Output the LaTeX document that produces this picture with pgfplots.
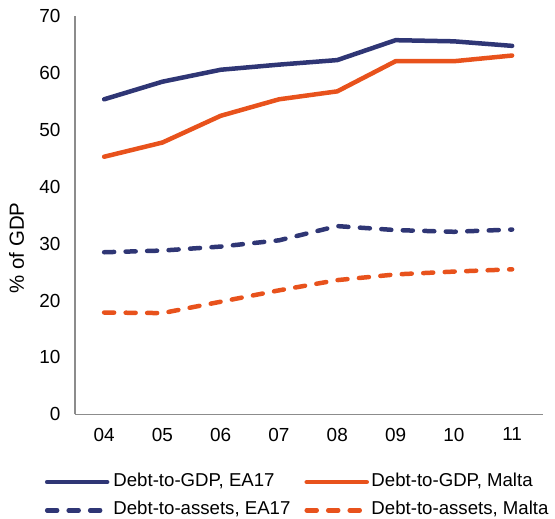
\documentclass[border=0pt]{standalone}
\usepackage{fontspec}
\setmainfont{Liberation Sans}
\usepackage{pgfplots}
\pgfplotsset{compat=1.18}
\definecolor{navy}{HTML}{2F3675}
\definecolor{org}{HTML}{E8521C}
\definecolor{axgray}{HTML}{8C8C8C}
\begin{document}
\begin{tikzpicture}
\begin{axis}[
  scale only axis,
  width=468bp, height=398bp,
  xmin=-0.5, xmax=7.53, ymin=0, ymax=70,
  axis x line*=bottom, axis y line*=left,
  axis line style={axgray, line width=1.5pt},
  xtick={0,...,7}, xticklabels={04,05,06,07,08,09,10,11},
  ytick={0,10,...,70},
  major tick length=0pt,
  tick label style={font=\fontsize{19}{22}\selectfont},
  /pgf/number format/assume math mode=true,
  xticklabel style={yshift=-10bp},
  yticklabel style={xshift=-11bp},
  ylabel={\% of GDP},
  ylabel style={font=\fontsize{20.5}{24}\selectfont, at={(axis description cs:-0.125,0.418)}, anchor=center, rotate=0},
  legend columns=2,
  legend style={draw=none, at={(axis description cs:-0.0647,-0.1508)}, anchor=north west,
    inner sep=0pt, row sep=13.3bp,
    font=\fontsize{18.7}{22}\selectfont,
    nodes={inner sep=0pt, text height=12bp, text depth=3bp},
    /tikz/column 1/.style={column sep=4bp},
    /tikz/column 2/.style={column sep=14bp},
    /tikz/column 3/.style={column sep=2.5bp}},
  legend cell align=left,
  legend image code/.code={\draw[#1] (2bp,0bp) -- (62bp,0bp);},
  every axis plot/.append style={line width=4.5bp, line cap=round, line join=round},
]
\addplot[navy] coordinates {(0,55.4)(1,58.5)(2,60.6)(3,61.5)(4,62.3)(5,65.8)(6,65.6)(7,64.8)};
\addlegendentry{Debt-to-GDP, EA17}
\addplot[org] coordinates {(0,45.3)(1,47.8)(2,52.5)(3,55.4)(4,56.8)(5,62.1)(6,62.1)(7,63.1)};
\addlegendentry{Debt-to-GDP, Malta}
\addplot[navy, dash pattern=on 10bp off 11.5bp] coordinates {(0,28.5)(1,28.8)(2,29.5)(3,30.6)(4,33.1)(5,32.4)(6,32.1)(7,32.5)};
\addlegendentry{Debt-to-assets, EA17}
\addplot[org, dash pattern=on 10bp off 11.5bp] coordinates {(0,17.9)(1,17.8)(2,19.8)(3,21.8)(4,23.6)(5,24.6)(6,25.1)(7,25.5)};
\addlegendentry{Debt-to-assets, Malta}
\end{axis}
\pgfresetboundingbox
\useasboundingbox (current axis.south west) ++(-75bp,-104.7bp) rectangle ++(555bp,519bp);
\end{tikzpicture}
\end{document}
